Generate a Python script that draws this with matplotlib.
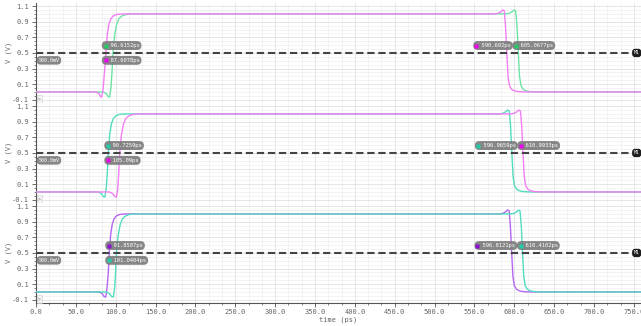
import numpy as np
import matplotlib
matplotlib.use('Agg')
import matplotlib.pyplot as plt
from matplotlib.ticker import MultipleLocator, FixedLocator

# ----------------------------------------------------------------------
# Three stacked transient plots, V (V) vs time (ps).
# ----------------------------------------------------------------------

# panel 1: magenta leads on both edges
t_p1_mag = [0, 75, 79, 81, 82.5, 84, 85.5, 87.6, 89.5, 91.5, 94, 97, 101, 108,
            574, 579, 583, 585.5, 587.5, 589, 590.7, 592.2, 594, 596.5, 600, 605, 614, 759]
v_p1_mag = [0, 0, -0.02, -0.06, -0.065, 0.02, 0.2, 0.5, 0.74, 0.87, 0.94, 0.975, 0.993, 1.0,
            1.0, 1.005, 1.025, 1.05, 1.04, 0.85, 0.5, 0.2, 0.08, 0.035, 0.015, 0.005, 0, 0]
t_p1_grn = [0, 84, 88, 90.5, 92.5, 94, 95.3, 96.6, 98.5, 101, 104, 108, 113, 120,
            588, 593, 597, 599.8, 601.8, 603.4, 605.1, 606.6, 608.5, 611, 614.5, 619, 628, 759]
v_p1_grn = [0, 0, -0.02, -0.06, -0.065, 0.05, 0.25, 0.5, 0.72, 0.86, 0.94, 0.975, 0.993, 1.0,
            1.0, 1.005, 1.025, 1.05, 1.04, 0.85, 0.5, 0.2, 0.08, 0.035, 0.015, 0.005, 0, 0]

# panel 2: teal leads, magenta lags
t_p2_teal = [0, 78, 82, 84.5, 86.5, 88, 89.4, 90.7, 92.5, 94.5, 97, 100, 104, 111,
             580, 585, 589, 591.7, 593.7, 595.3, 597.0, 598.5, 600.3, 603, 606.5, 611, 620, 759]
v_p2_teal = [0, 0, -0.02, -0.06, -0.065, 0.04, 0.23, 0.5, 0.74, 0.87, 0.94, 0.975, 0.993, 1.0,
             1.0, 1.005, 1.025, 1.05, 1.04, 0.85, 0.5, 0.2, 0.08, 0.035, 0.015, 0.005, 0, 0]
t_p2_mag = [0, 92, 96, 99, 101, 102.5, 103.8, 105.1, 107, 109.5, 112.5, 116.5, 121, 128,
            594, 599, 603, 605.7, 607.7, 609.3, 611.0, 612.5, 614.3, 617, 620.5, 625, 634, 759]
v_p2_mag = [0, 0, -0.02, -0.06, -0.065, 0.04, 0.24, 0.5, 0.72, 0.86, 0.94, 0.975, 0.993, 1.0,
            1.0, 1.005, 1.025, 1.05, 1.04, 0.85, 0.5, 0.2, 0.08, 0.035, 0.015, 0.005, 0, 0]

# panel 3: purple leads, teal lags
t_p3_pur = [0, 79, 83, 85.5, 87.5, 89, 90.6, 91.9, 93.7, 95.7, 98, 101, 105, 112,
            580, 585, 589, 591.6, 593.6, 595.1, 596.8, 598.3, 600.1, 602.8, 606.3, 611, 620, 759]
v_p3_pur = [0, 0, -0.02, -0.06, -0.065, 0.04, 0.23, 0.5, 0.74, 0.87, 0.94, 0.975, 0.993, 1.0,
            1.0, 1.005, 1.025, 1.05, 1.04, 0.85, 0.5, 0.2, 0.08, 0.035, 0.015, 0.005, 0, 0]
t_p3_teal = [0, 88, 92, 95, 97, 98.5, 99.8, 101.0, 103, 105.5, 108.5, 112.5, 117, 124,
             594, 599, 603, 605.2, 607.2, 608.8, 610.4, 611.9, 613.7, 616.4, 620, 625, 634, 759]
v_p3_teal = [0, 0, -0.02, -0.06, -0.065, 0.04, 0.24, 0.5, 0.72, 0.86, 0.94, 0.975, 0.993, 1.0,
             1.0, 1.005, 1.025, 1.05, 1.04, 0.85, 0.5, 0.2, 0.08, 0.035, 0.015, 0.005, 0, 0]

# marker readouts: (upper/lower left pair, left/right right pair)
rise_up = ['96.6152ps', '90.7259ps', '91.8587ps']
rise_lo = ['87.6078ps', '105.09ps', '101.0404ps']
fall_l = ['590.692ps', '596.9659ps', '596.8121ps']
fall_r = ['605.0677ps', '610.9933ps', '610.4102ps']
rise_x = [87.6, 90.7, 91.9]
fall_x = [(590.7, 605.1), (597.0, 611.0), (596.8, 610.4)]

MAG = '#f47ef4'
GRN = '#6fe3a6'
TEAL = '#52dcc0'
PUR = '#b565f2'
waves = [
    [(t_p1_grn, v_p1_grn, GRN), (t_p1_mag, v_p1_mag, MAG)],
    [(t_p2_teal, v_p2_teal, TEAL), (t_p2_mag, v_p2_mag, MAG)],
    [(t_p3_pur, v_p3_pur, PUR), (t_p3_teal, v_p3_teal, TEAL)],
]
dots = [('#22cc66', '#ee00ee', '#ee00ee', '#22cc66'),
        ('#22ccaa', '#ee00ee', '#22ccaa', '#ee00ee'),
        ('#8a10d0', '#22ccaa', '#8a10d0', '#22ccaa')]

MONO = 'DejaVu Sans Mono'
FS = 4.0
CW = 0.6 * FS  # char width in points


def tag(ax, x, y, txt, dot, ha='left', dx=0):
    s = '  ' + txt
    ax.annotate(s, (x, y), xytext=(dx, 0), textcoords='offset points',
                ha=ha, va='center', fontsize=FS, color='white', family=MONO,
                bbox=dict(boxstyle='round,pad=0.35,rounding_size=0.8',
                          fc='#7c7c7c', ec='none', alpha=0.92),
                zorder=6, annotation_clip=False)
    left = dx if ha == 'left' else dx - len(s) * CW
    ax.plot([x], [y], marker='s', ms=2.2, color=dot, mec='none', zorder=7,
            transform=ax.transData + matplotlib.transforms.ScaledTranslation(
                (left + 1.3) / 72, 0, ax.figure.dpi_scale_trans))


fig = plt.figure(figsize=(6.41, 3.26), dpi=100)
W, H = 641, 326
x0 = 36
tops = [3, 103, 203]
ph = 99.5

for i in range(3):
    ax = fig.add_axes([x0 / W, (H - tops[i] - ph) / H, 1 - x0 / W, ph / H])
    ax.set_xlim(0, 759)
    ax.set_ylim(-0.135, 1.14)

    ax.xaxis.set_major_locator(MultipleLocator(50))
    ax.xaxis.set_minor_locator(MultipleLocator(50 / 3))
    ax.yaxis.set_major_locator(FixedLocator([-0.1, 0.1, 0.3, 0.5, 0.7, 0.9, 1.1]))
    ax.yaxis.set_minor_locator(MultipleLocator(0.05))
    ax.grid(which='major', color='#e2e2e2', lw=0.6)
    ax.grid(which='minor', color='#eeeeee', lw=0.5)
    ax.set_axisbelow(True)

    for s in ['top', 'right']:
        ax.spines[s].set_visible(False)
    ax.spines['left'].set_color('#555555')
    ax.spines['left'].set_linewidth(0.8)
    ax.tick_params(axis='y', which='major', length=3, width=0.6, color='#555555',
                   labelsize=5, labelcolor='#666666', pad=2)
    ax.tick_params(axis='y', which='minor', length=1.6, width=0.5, color='#555555')
    ax.set_yticklabels(['-0.1', '0.1', '0.3', '0.5', '0.7', '0.9', '1.1'],
                       family=MONO)
    ax.set_ylabel('V (V)', fontsize=5, color='#666666', family=MONO, labelpad=0)

    if i < 2:
        ax.spines['bottom'].set_visible(False)
        ax.tick_params(axis='x', which='both', length=0, labelbottom=False)
    else:
        ax.spines['bottom'].set_color('#555555')
        ax.spines['bottom'].set_linewidth(0.8)
        ax.tick_params(axis='x', which='major', length=3, width=0.6, color='#555555',
                       labelsize=5, labelcolor='#666666', pad=2)
        ax.tick_params(axis='x', which='minor', length=1.6, width=0.5, color='#555555')
        ax.set_xticks(np.arange(0, 759, 50))
        ax.set_xticklabels(['%.1f' % v for v in np.arange(0, 759, 50)], family=MONO)
        ax.set_xlabel('time (ps)', fontsize=5, color='#666666', family=MONO, labelpad=1)

    for t, v, c in waves[i]:
        ax.plot(t, v, color=c, lw=1.0, zorder=3)

    ax.axhline(0.5, color='#444444', lw=1.5, dashes=(3.5, 1.8), zorder=4)

    d = dots[i]
    tag(ax, rise_x[i], 0.595, rise_up[i], d[0], 'left', dx=-1.5)
    tag(ax, rise_x[i], 0.405, rise_lo[i], d[1], 'left', dx=-1.5)
    mid = (fall_x[i][0] + fall_x[i][1]) / 2
    tag(ax, mid, 0.595, fall_l[i], d[2], 'right', dx=-1.2)
    tag(ax, mid, 0.595, fall_r[i], d[3], 'left', dx=1.2)

    ax.text(3, 0.405, '500.0mV', fontsize=3.6, color='white', family=MONO,
            ha='left', va='center', zorder=6,
            bbox=dict(boxstyle='round,pad=0.35,rounding_size=0.8',
                      fc='#7c7c7c', ec='none', alpha=0.92))
    ax.text(750, 0.5, 'M1', fontsize=3.4, color='white', family=MONO,
            ha='left', va='center', zorder=6, clip_on=False,
            bbox=dict(boxstyle='round,pad=0.35,rounding_size=0.6',
                      fc='#1e1e1e', ec='none'))
    ax.text(2.5, -0.085, '>', fontsize=3.4, color='#888888', family=MONO,
            ha='left', va='center', zorder=6,
            bbox=dict(boxstyle='square,pad=0.3', fc='#f2f2f2', ec='#cccccc', lw=0.4))

fig.savefig('out.png', dpi=100)
